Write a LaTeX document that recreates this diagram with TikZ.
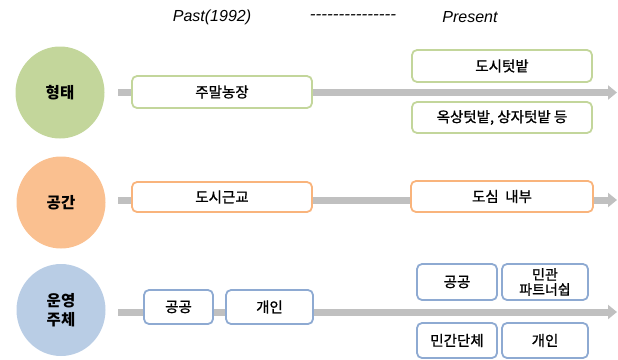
\documentclass[tikz,border=0pt]{standalone}
\usepackage{fontspec}
\setmainfont{Noto Sans CJK KR}
\newfontfamily\krmed[FakeBold=0.9]{Noto Sans CJK KR}
\newfontfamily\latinfont{Liberation Sans}
\usetikzlibrary{arrows.meta,shapes.geometric}
\definecolor{greenc}{HTML}{C3D69B}
\definecolor{orangec}{HTML}{FAC090}
\definecolor{orangeb}{HTML}{F9B47C}
\definecolor{bluec}{HTML}{B9CDE5}
\definecolor{blueb}{HTML}{8EAAD2}
\definecolor{barc}{HTML}{C0C0C0}
\begin{document}
\begin{tikzpicture}[x=1pt,y=-1pt,
  circ/.style={ellipse,minimum width=89pt,minimum height=92pt,inner sep=0pt,
    font=\fontsize{15.5}{19}\selectfont\bfseries,align=center},
  box/.style={draw,rounded corners=5pt,fill=white,line width=1.8pt,inner sep=0pt,
    font=\krmed\fontsize{14.5}{16}\selectfont,align=center},
  bar/.style={draw=barc,line width=7pt,-{Triangle[width=14pt,length=9pt]}},
  hdr/.style={font=\latinfont\itshape\fontsize{16}{18}\selectfont}]
\useasboundingbox (0,0) rectangle (618,359);
% header
\node[hdr] (past) at (212,17) {Past(1992)};
\node[hdr,xscale=1.08] (dash) at (353,17) {---------------};
\node[hdr] (pres) at (470,17) {Present};
% row 1
\coordinate (s1) at (118,92.5);
\coordinate (e1) at (617,92.5);
\draw[bar] (s1) -- (e1);
\node[circ,fill=greenc] (c1) at (60,92.5) {형태};
\node[box,draw=greenc,minimum width=180pt,minimum height=32pt] (b11) at (222,92) {주말농장};
\node[box,draw=greenc,minimum width=180pt,minimum height=32pt] (b12) at (502,66) {도시텃밭};
\node[box,draw=greenc,minimum width=180pt,minimum height=31pt] (b13) at (502,117.5) {옥상텃밭,\ 상자텃밭\ 등};
% row 2
\coordinate (s2) at (118,200);
\coordinate (e2) at (617,200);
\draw[bar] (s2) -- (e2);
\node[circ,fill=orangec] (c2) at (61,202.5) {공간};
\node[box,draw=orangeb,minimum width=180pt,minimum height=30pt] (b21) at (222,197) {도시근교};
\node[box,draw=orangeb,minimum width=182pt,minimum height=31pt] (b22) at (502,196.5) {도심\ \ 내부};
% row 3
\coordinate (s3) at (118,312);
\coordinate (e3) at (617,312);
\draw[bar] (s3) -- (e3);
\node[circ,fill=bluec] (c3) at (61,310) {운영\\주체};
\node[box,draw=blueb,minimum width=69pt,minimum height=34pt] (b31) at (178.5,307) {공공};
\node[box,draw=blueb,minimum width=87pt,minimum height=34pt] (b32) at (269.5,307) {개인};
\node[box,draw=blueb,minimum width=80pt,minimum height=36pt] (b33) at (457,282) {공공};
\node[box,draw=blueb,minimum width=86pt,minimum height=36pt,font=\krmed\fontsize{14}{15}\selectfont] (b34) at (545,282) {민관\\파트너쉽};
\node[box,draw=blueb,minimum width=80pt,minimum height=35pt] (b35) at (457,340.5) {민간단체};
\node[box,draw=blueb,minimum width=86pt,minimum height=35pt] (b36) at (545,340.5) {개인};
\end{tikzpicture}
\end{document}
